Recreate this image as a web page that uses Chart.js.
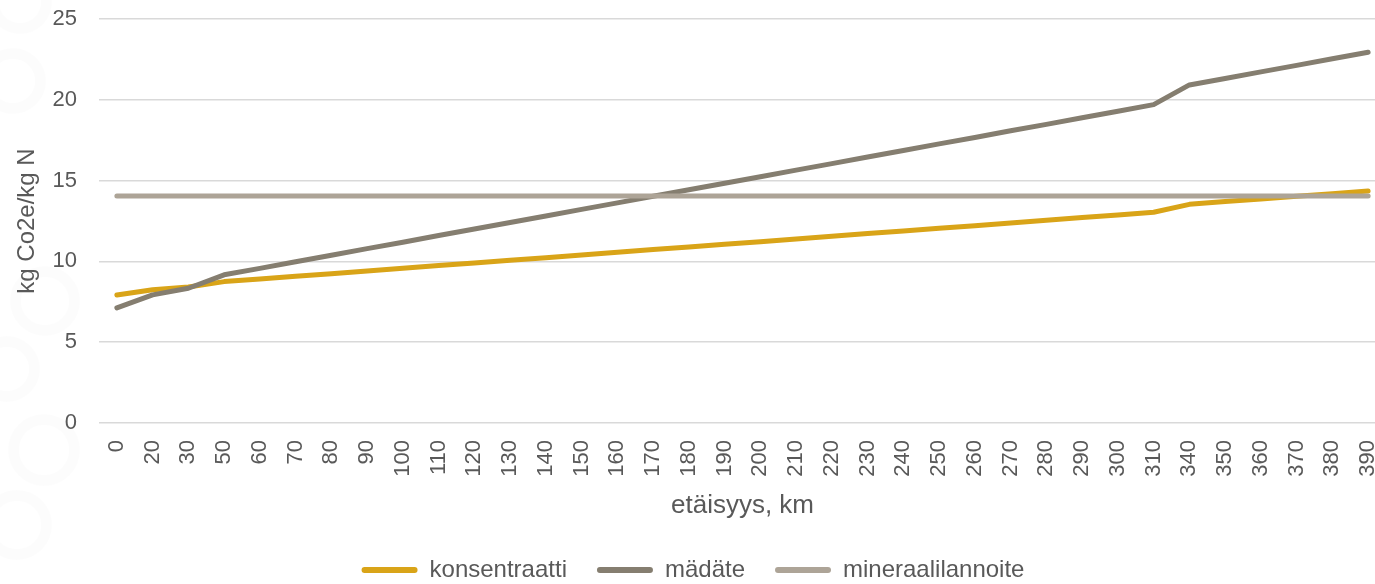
<!DOCTYPE html>
<html lang="fi">
<head>
<meta charset="utf-8">
<title>Kuljetusmatkan vaikutus päästöihin</title>
<script src="https://cdn.jsdelivr.net/npm/chart.js@4.4.1/dist/chart.umd.min.js"></script>
<style>
  html, body { margin: 0; padding: 0; background: #ffffff; overflow: hidden; }
  #wrap { position: relative; width: 1400px; height: 584px; }
  .ring { position: absolute; border-radius: 50%; box-sizing: border-box;
          border: 11px solid rgba(0, 0, 0, 0.013); }
  #chart { position: absolute; left: 0; top: 0; }
</style>
</head>
<body>
<div id="wrap">
  <!-- faint decorative rings along the left edge -->
  <div class="ring" style="left:-12px;top:-30px;width:64px;height:64px;"></div>
  <div class="ring" style="left:-20px;top:48px;width:66px;height:66px;"></div>
  <div class="ring" style="left:10px;top:266px;width:70px;height:70px;"></div>
  <div class="ring" style="left:-26px;top:336px;width:66px;height:66px;"></div>
  <div class="ring" style="left:8px;top:414px;width:72px;height:72px;"></div>
  <div class="ring" style="left:-18px;top:490px;width:70px;height:70px;"></div>
  <canvas id="chart" width="1400" height="584"></canvas>
</div>
<script>
// Distance categories (km)
const distances = ['0', '20', '30', '50', '60', '70', '80', '90', '100', '110', '120', '130',
  '140', '150', '160', '170', '180', '190', '200', '210', '220', '230', '240', '250', '260',
  '270', '280', '290', '300', '310', '340', '350', '360', '370', '380', '390'];

// Emissions, kg CO2e per kg N
const konsentraatti = [7.92, 8.25, 8.42, 8.75, 8.91, 9.08, 9.24, 9.41, 9.57, 9.74, 9.90, 10.07,
  10.23, 10.40, 10.56, 10.73, 10.89, 11.06, 11.22, 11.39, 11.55, 11.72, 11.88, 12.05, 12.21,
  12.38, 12.54, 12.71, 12.87, 13.04, 13.53, 13.70, 13.86, 14.03, 14.19, 14.36];

const madate = [7.12, 7.93, 8.34, 9.17, 9.57, 9.98, 10.38, 10.79, 11.19, 11.60, 12.00, 12.41,
  12.81, 13.22, 13.62, 14.03, 14.43, 14.84, 15.24, 15.65, 16.05, 16.46, 16.86, 17.27, 17.67,
  18.08, 18.48, 18.89, 19.29, 19.70, 20.92, 21.32, 21.73, 22.13, 22.54, 22.94];

const mineraalilannoite = [14.05, 14.05, 14.05, 14.05, 14.05, 14.05, 14.05, 14.05, 14.05, 14.05,
  14.05, 14.05, 14.05, 14.05, 14.05, 14.05, 14.05, 14.05, 14.05, 14.05, 14.05, 14.05, 14.05,
  14.05, 14.05, 14.05, 14.05, 14.05, 14.05, 14.05, 14.05, 14.05, 14.05, 14.05, 14.05, 14.05];

const yTicks = [0, 5, 10, 15, 20, 25];

const TEXT = '#595959';
const FONT = "'Liberation Sans', Arial, sans-serif";

function series(label, data, color, order) {
  return {
    label, data, order,
    borderColor: color,
    backgroundColor: color,
    borderWidth: 5,
    pointRadius: 0,
    pointHoverRadius: 0,
    tension: 0,
    borderCapStyle: 'round',
    borderJoinStyle: 'round',
    fill: false
  };
}

new Chart(document.getElementById('chart'), {
  type: 'line',
  data: {
    labels: distances,
    datasets: [
      series('konsentraatti', konsentraatti, '#D9A418', 2),
      series('mädäte', madate, '#857E70', 1),
      series('mineraalilannoite', mineraalilannoite, '#ADA497', 0)
    ]
  },
  options: {
    responsive: false,
    animation: false,
    layout: { padding: { top: 19, right: 14, left: 0, bottom: 0 } },
    plugins: {
      tooltip: { enabled: false },
      legend: {
        position: 'bottom',
        maxHeight: 56,
        labels: {
          color: TEXT,
          font: { family: FONT, size: 24 },
          boxWidth: 56,
          boxHeight: 6,
          useBorderRadius: true,
          borderRadius: 3,
          padding: 30,
          sort: (a, b) => a.datasetIndex - b.datasetIndex,
          generateLabels(chart) {
            return Chart.defaults.plugins.legend.labels.generateLabels(chart)
              .map(item => Object.assign(item, { lineWidth: 0 }));
          }
        }
      }
    },
    scales: {
      x: {
        type: 'category',
        offset: true,
        afterFit(scale) {
          scale.height = 105;
          scale.paddingLeft = 0;
          scale.paddingRight = 0;
        },
        grid: { display: false },
        border: { display: false },
        ticks: {
          autoSkip: false,
          minRotation: 90,
          maxRotation: 90,
          padding: 9,
          color: TEXT,
          font: { family: FONT, size: 22 }
        },
        title: {
          display: true,
          text: 'etäisyys, km',
          color: TEXT,
          font: { family: FONT, size: 26 },
          padding: { top: 0, bottom: 7 }
        }
      },
      y: {
        min: yTicks[0],
        max: yTicks[yTicks.length - 1],
        afterFit(scale) {
          scale.width = 99;
          scale.paddingTop = 0;
          scale.paddingBottom = 0;
        },
        afterBuildTicks(scale) { scale.ticks = yTicks.map(v => ({ value: v })); },
        grid: { color: '#D9D9D9', lineWidth: 1.5, drawTicks: false },
        border: { display: false },
        ticks: {
          padding: 22,
          color: TEXT,
          font: { family: FONT, size: 22 }
        },
        title: {
          display: true,
          text: 'kg Co2e/kg N',
          color: TEXT,
          font: { family: FONT, size: 24 },
          padding: { top: 13, bottom: 0 }
        }
      }
    }
  }
});
</script>
</body>
</html>
